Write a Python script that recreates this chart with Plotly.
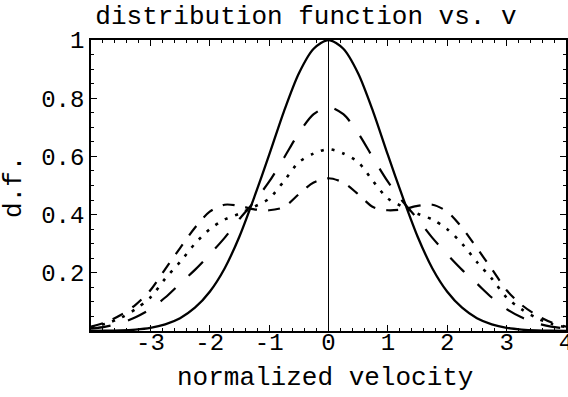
import plotly.graph_objects as go

V = [-4.0, -3.75, -3.5, -3.25, -3.0, -2.75, -2.5, -2.25, -2.0, -1.75, -1.5, -1.25, -1.0, -0.75, -0.5, -0.25,
     0.0, 0.25, 0.5, 0.75, 1.0, 1.25, 1.5, 1.75, 2.0, 2.25, 2.5, 2.75, 3.0, 3.25, 3.5, 3.75, 4.0]

solid_half = [1.0, 0.97, 0.885, 0.755, 0.605, 0.46, 0.325, 0.215, 0.135, 0.08, 0.044, 0.023, 0.011, 0.005, 0.002, 0.001, 0.0]
longdash_half = [0.77, 0.745, 0.68, 0.595, 0.513, 0.445, 0.385, 0.32, 0.263, 0.21, 0.163, 0.115, 0.075, 0.047, 0.027, 0.015, 0.008]
dotted_half = [0.625, 0.61, 0.58, 0.515, 0.455, 0.427, 0.403, 0.383, 0.35, 0.30, 0.237, 0.18, 0.115, 0.075, 0.045, 0.025, 0.013]
dashed_half = [0.525, 0.51, 0.47, 0.426, 0.415, 0.418, 0.43, 0.434, 0.41, 0.355, 0.285, 0.213, 0.14, 0.09, 0.055, 0.03, 0.015]

def full(h):
    return h[:0:-1] + h

series = [
    ("solid", full(solid_half), "solid", 2.3),
    ("long dash", full(longdash_half), "20px,18px", 2.2),
    ("dotted", full(dotted_half), "3px,8px", 2.6),
    ("dashed", full(dashed_half), "12px,11px", 2.2),
]

XTICKS = [-4, -3, -2, -1, 0, 1, 2, 3, 4]
XTICKTEXT = ["", "-3", "-2", "-1", "0", "1", "2", "3", "4"]
YTICKS = [0.2, 0.4, 0.6, 0.8, 1.0]
YTICKTEXT = ["0.2", "0.4", "0.6", "0.8", "1"]

FONT = "Liberation Mono, Courier New, monospace"

fig = go.Figure()
for name, ys, dash, w in series:
    fig.add_trace(go.Scatter(x=V, y=ys, mode="lines", name=name,
                             line=dict(color="black", width=w, dash=dash, shape="spline", smoothing=0.8)))

fig.update_layout(
    width=568, height=397,
    margin=dict(l=91, r=2, t=40, b=66),
    paper_bgcolor="white", plot_bgcolor="white",
    showlegend=False,
    font=dict(family=FONT, size=24, color="black"),
    title=dict(text="distribution function vs. v", x=306/568, xanchor="center",
               y=1 - 15/397, yanchor="middle", xref="container", yref="container",
               font=dict(family=FONT, size=26, color="black"), automargin=False),
)
fig.update_xaxes(
    range=[-4, 4], showgrid=False, zeroline=True, zerolinecolor="black", zerolinewidth=1,
    showline=True, linecolor="black", linewidth=1.5, mirror="ticks", automargin=False,
    ticks="inside", ticklen=6, tickwidth=1, tickcolor="black",
    tickvals=XTICKS, ticktext=XTICKTEXT, ticklabelstandoff=-12, ticklabeloverflow="allow",
    minor=dict(dtick=0.2, ticks="inside", ticklen=3, tickcolor="black", showgrid=False),
    tickfont=dict(family=FONT, size=24),
)
fig.update_yaxes(
    range=[0, 1], showgrid=False, zeroline=False,
    showline=True, linecolor="black", linewidth=1.5, mirror="ticks", automargin=False,
    ticks="inside", ticklen=6, tickwidth=1, tickcolor="black",
    tickvals=YTICKS, ticktext=YTICKTEXT, ticklabelstandoff=0, ticklabeloverflow="allow",
    minor=dict(dtick=0.05, ticks="inside", ticklen=3, tickcolor="black", showgrid=False),
    tickfont=dict(family=FONT, size=24),
)
fig.add_annotation(text="normalized velocity", xref="paper", yref="paper",
                   x=(325 - 91) / 475, y=-(378 - 331) / 291, xanchor="center", yanchor="middle",
                   showarrow=False, font=dict(family=FONT, size=26, color="black"))
fig.add_annotation(text="d.f.", xref="paper", yref="paper",
                   x=-(91 - 14) / 475, y=(331 - 187) / 291, xanchor="center", yanchor="middle",
                   textangle=-90, showarrow=False, font=dict(family=FONT, size=26, color="black"))

fig.write_html("out.html")
